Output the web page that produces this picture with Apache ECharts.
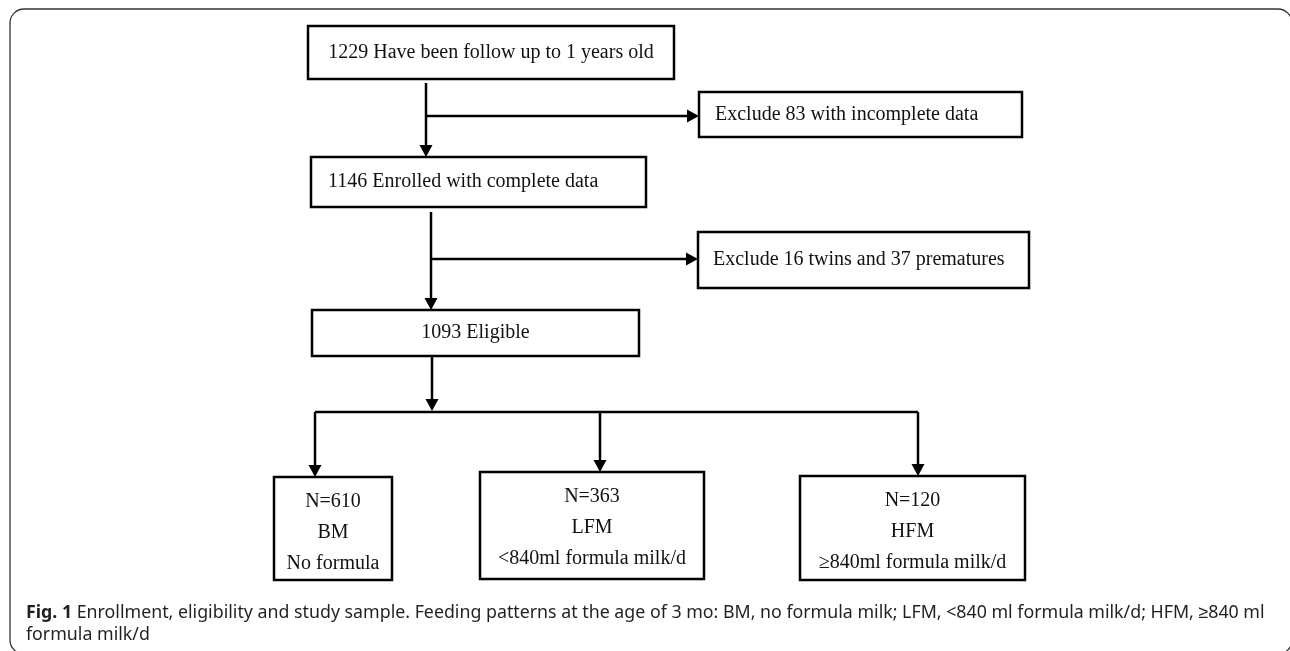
<!DOCTYPE html>
<html>
<head>
  <meta charset="utf-8">
  <title>Fig. 1 Enrollment, eligibility and study sample</title>
  <script src="https://cdn.jsdelivr.net/npm/echarts@6/dist/echarts.min.js"></script>
  <style>
    html, body {
      margin: 0;
      padding: 0;
      background: #fff;
    }

    #chart {
      width: 1290px;
      height: 651px;
    }
  </style>
</head>
<body>
<div id="chart"></div>
<script>
  // text of each box, one entry per line
  var boxText = [
    ['1229 Have been follow up to 1 years old'],
    ['Exclude 83 with incomplete data'],
    ['1146 Enrolled with complete data'],
    ['Exclude 16 twins and 37 prematures'],
    ['1093 Eligible'],
    ['N=610', 'BM', 'No formula'],
    ['N=363', 'LFM', '<840ml formula milk/d'],
    ['N=120', 'HFM', '\u2265840ml formula milk/d']
  ];

  // box layout: left, top, right, bottom, text x (null = centred)
  var boxPos = [
    [308, 26, 674, 79, null],
    [699, 92, 1022, 137, 715],
    [311, 157, 646, 207, 328],
    [698, 232, 1029, 288, 713],
    [312, 310, 639, 356, null],
    [274, 477, 392, 580, null],
    [480, 472, 704, 579, null],
    [800, 476, 1025, 580, null]
  ];

  // connectors: start point, end point, arrow at end
  var links = [
    [[426, 83], [426, 157], true],
    [[426, 116], [699, 116], true],
    [[431, 212], [431, 310], true],
    [[431, 259], [698, 259], true],
    [[432, 356], [432, 411], true],
    [[315, 412], [918, 412], false],
    [[315, 412], [315, 477], true],
    [[600, 412], [600, 472], true],
    [[918, 412], [918, 476], true]
  ];

  var captionLines = [
    'Enrollment, eligibility and study sample. Feeding patterns at the age of 3 mo: BM, no formula milk; LFM, <840 ml formula milk/d; HFM, \u2265840 ml',
    'formula milk/d'
  ];

  var chart = echarts.init(document.getElementById('chart'), null, {renderer: 'canvas'});

  var serif = '"Liberation Serif", "Times New Roman", serif';
  var sans = '"Noto Sans", sans-serif';

  function renderBox(params, api) {
    var i = params.dataIndex;
    var p = boxPos[i];
    var a = api.coord([p[0], p[1]]);
    var b = api.coord([p[2], p[3]]);
    var lines = boxText[i];
    var kids = [{
      type: 'rect',
      shape: {x: a[0], y: a[1], width: b[0] - a[0], height: b[1] - a[1]},
      style: {fill: '#fff', stroke: '#000', lineWidth: 2.5}
    }];
    for (var k = 0; k < lines.length; k++) {
      var tx = p[4] == null ? (a[0] + b[0]) / 2 : api.coord([p[4], 0])[0];
      var ty = lines.length == 1 ? (a[1] + b[1]) / 2 : a[1] + 25 + k * 31;
      kids.push({
        type: 'text',
        style: {
          text: lines[k], x: tx, y: ty,
          align: p[4] == null ? 'center' : 'left',
          verticalAlign: 'middle',
          fontSize: 20, fontFamily: serif, fill: '#111'
        }
      });
    }
    return {type: 'group', children: kids};
  }

  function renderLink(params, api) {
    var l = links[params.dataIndex];
    var s = api.coord(l[0]);
    var e = api.coord(l[1]);
    var kids = [];
    var dx = e[0] - s[0], dy = e[1] - s[1];
    var len = Math.sqrt(dx * dx + dy * dy);
    var ux = dx / len, uy = dy / len;
    var head = l[2] ? 12 : 0;
    kids.push({
      type: 'line',
      shape: {x1: s[0], y1: s[1], x2: e[0] - ux * head, y2: e[1] - uy * head},
      style: {stroke: '#000', lineWidth: 2.5}
    });
    if (l[2]) {
      var bx = e[0] - ux * head, by = e[1] - uy * head;
      kids.push({
        type: 'polygon',
        shape: {points: [[e[0], e[1]], [bx - uy * 6.5, by + ux * 6.5], [bx + uy * 6.5, by - ux * 6.5]]},
        style: {fill: '#000'}
      });
    }
    return {type: 'group', children: kids};
  }

  var option = {
    animation: false,
    grid: {left: 0, right: 0, top: 0, bottom: 0},
    xAxis: {type: 'value', min: 0, max: 1290, show: false},
    yAxis: {type: 'value', min: 0, max: 651, inverse: true, show: false},
    graphic: [
      {
        type: 'rect',
        shape: {x: 10, y: 9, width: 1282, height: 645, r: 14},
        style: {fill: 'none', stroke: '#333', lineWidth: 1.3},
        silent: true
      },
      {
        type: 'text',
        left: 26, top: 602,
        style: {
          text: '{b|Fig. 1} ' + captionLines[0] + '\n' + captionLines[1],
          fontSize: 17.8, lineHeight: 22, fontFamily: sans,
          fill: '#231f20',
          rich: {
            b: {fontWeight: 'bold', fontSize: 17.8, lineHeight: 22, fontFamily: sans, fill: '#231f20'}
          }
        }
      }
    ],
    series: [
      {
        type: 'custom',
        name: 'links',
        silent: true,
        clip: false,
        renderItem: renderLink,
        data: links.map(function (l) { return l[0]; })
      },
      {
        type: 'custom',
        name: 'boxes',
        silent: true,
        clip: false,
        renderItem: renderBox,
        data: boxPos.map(function (p) { return [p[0], p[1]]; })
      }
    ]
  };

  chart.setOption(option);
  window.onresize = function () {
    chart.resize();
  };
</script>
</body>
</html>
